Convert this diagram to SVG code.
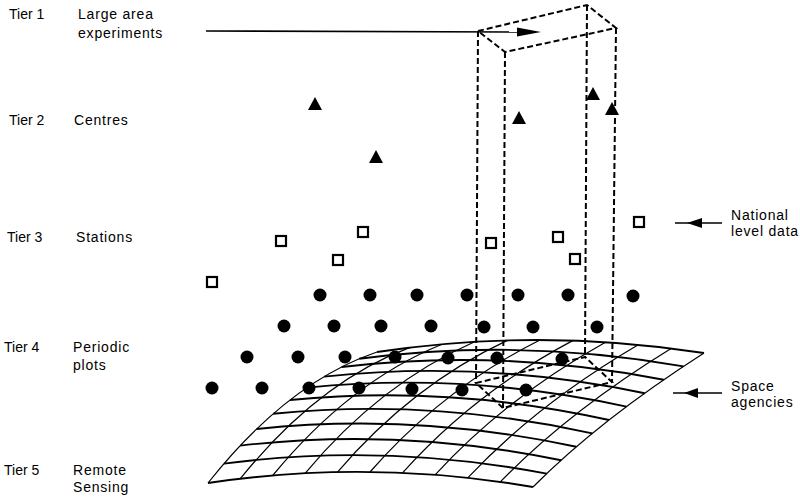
<svg xmlns="http://www.w3.org/2000/svg" width="800" height="501" viewBox="0 0 800 501">
<style>
text{font-family:"Liberation Sans",Arial,sans-serif;font-size:14px;fill:#000}
.lbl{letter-spacing:0.8px}
.row{fill:none;stroke:#000;stroke-width:1.9}
.col{fill:none;stroke:#000;stroke-width:1.2}
.dash{fill:none;stroke:#000;stroke-width:2;stroke-dasharray:6 3}
.dot{fill:#000}
.sq{fill:#fff;stroke:#000;stroke-width:2.2}
.tri{fill:#000}
.arr{fill:none;stroke:#000;stroke-width:1.6}
</style>
<rect width="800" height="501" fill="#fff"/>
<g id="labels">
<text x="9" y="19">Tier 1</text>
<text class="lbl" x="78" y="19">Large area</text>
<text class="lbl" x="78" y="38">experiments</text>
<text x="9" y="125">Tier 2</text>
<text class="lbl" x="74" y="125">Centres</text>
<text x="7" y="242">Tier 3</text>
<text class="lbl" x="76" y="242">Stations</text>
<text x="4" y="352">Tier 4</text>
<text class="lbl" x="73" y="352">Periodic</text>
<text class="lbl" x="73" y="370">plots</text>
<text x="4" y="475">Tier 5</text>
<text class="lbl" x="73" y="475">Remote</text>
<text class="lbl" x="73" y="492">Sensing</text>
<text class="lbl" x="731" y="220">National</text>
<text class="lbl" x="731" y="236">level data</text>
<text class="lbl" x="731" y="391">Space</text>
<text class="lbl" x="731" y="407">agencies</text>
</g>
<g id="remote-sensing-grid">
<path class="col" d="M208,483 Q287.5,382.5 377,352"/>
<path class="col" d="M240.3,478.7 Q318.5,381.7 409.5,347.6"/>
<path class="col" d="M272.7,475.5 Q349.6,381.8 442.1,344.2"/>
<path class="col" d="M305.1,473.3 Q380.7,383 474.7,341.8"/>
<path class="col" d="M337.5,472.1 Q411.8,385.3 507.3,340.4"/>
<path class="col" d="M370,472 Q443,388.5 540,340"/>
<path class="col" d="M402.5,472.9 Q474.2,392.8 572.7,340.6"/>
<path class="col" d="M435.1,474.9 Q505.5,398 605.5,342.2"/>
<path class="col" d="M467.7,477.9 Q536.8,404.3 638.3,344.8"/>
<path class="col" d="M500.3,481.9 Q568.1,411.7 671.1,348.4"/>
<path class="col" d="M533,487 Q599.5,420 704,353"/>
<path class="row" d="M208,483 Q369.5,459 533,487"/>
<path class="row" d="M224,463.6 Q384.4,442.7 546.7,473.6"/>
<path class="row" d="M240.2,445.6 Q399.7,427.1 561.1,460.2"/>
<path class="row" d="M256.6,429 Q415.5,412.2 576.3,446.8"/>
<path class="row" d="M273.2,413.8 Q431.8,398 592.3,433.4"/>
<path class="row" d="M290,400 Q448.5,384.5 609,420"/>
<path class="row" d="M307,387.6 Q465.8,371.7 626.5,406.6"/>
<path class="row" d="M324.2,376.6 Q483.5,359.6 644.7,393.2"/>
<path class="row" d="M341.6,367 Q501.7,348.2 663.7,379.8"/>
<path class="row" d="M359.2,358.8 Q520.4,337.5 683.5,366.4"/>
<path class="row" d="M377,352 Q539.5,327.5 704,353"/>
</g>
<g id="large-area-prism">
<polygon class="dash" points="478,31 587,5 616,28 505,52"/>
<polygon class="dash" points="476,383 585,357 612,382 503,408"/>
<line class="dash" x1="478" y1="31" x2="476" y2="383"/>
<line class="dash" x1="505" y1="52" x2="503" y2="408"/>
<line class="dash" x1="587" y1="5" x2="585" y2="357"/>
<line class="dash" x1="616" y1="28" x2="612" y2="382"/>
</g>
<g id="periodic-plots">
<circle class="dot" cx="320" cy="295" r="6.5"/><circle class="dot" cx="370" cy="295" r="6.5"/><circle class="dot" cx="417" cy="295" r="6.5"/><circle class="dot" cx="467" cy="295" r="6.5"/><circle class="dot" cx="518" cy="295" r="6.5"/><circle class="dot" cx="568" cy="295" r="6.5"/><circle class="dot" cx="633" cy="296" r="6.5"/>
<circle class="dot" cx="284" cy="326" r="6.5"/><circle class="dot" cx="334" cy="326" r="6.5"/><circle class="dot" cx="381" cy="326" r="6.5"/><circle class="dot" cx="431" cy="326" r="6.5"/><circle class="dot" cx="484" cy="327" r="6.5"/><circle class="dot" cx="533" cy="327" r="6.5"/><circle class="dot" cx="597" cy="327" r="6.5"/>
<circle class="dot" cx="247" cy="357" r="6.5"/><circle class="dot" cx="298" cy="357" r="6.5"/><circle class="dot" cx="345" cy="357" r="6.5"/><circle class="dot" cx="395" cy="357" r="6.5"/><circle class="dot" cx="448" cy="358" r="6.5"/><circle class="dot" cx="497" cy="358" r="6.5"/><circle class="dot" cx="562" cy="359" r="6.5"/>
<circle class="dot" cx="212" cy="388" r="6.5"/><circle class="dot" cx="262" cy="388" r="6.5"/><circle class="dot" cx="309" cy="388" r="6.5"/><circle class="dot" cx="359" cy="388" r="6.5"/><circle class="dot" cx="412" cy="389" r="6.5"/><circle class="dot" cx="462" cy="390" r="6.5"/><circle class="dot" cx="526" cy="390" r="6.5"/>
</g>
<g id="stations">
<rect class="sq" x="276" y="236" width="10" height="10"/>
<rect class="sq" x="358" y="227" width="10" height="10"/>
<rect class="sq" x="333" y="255" width="10" height="10"/>
<rect class="sq" x="207" y="277" width="10" height="10"/>
<rect class="sq" x="486" y="238" width="10" height="10"/>
<rect class="sq" x="553" y="232" width="10" height="10"/>
<rect class="sq" x="570" y="254" width="10" height="10"/>
<rect class="sq" x="634" y="217" width="10" height="10"/>
</g>
<g id="centres">
<polygon class="tri" points="315,97 308,110 322,110"/>
<polygon class="tri" points="376,150 369,163 383,163"/>
<polygon class="tri" points="519,111 512,124 526,124"/>
<polygon class="tri" points="593,87 586,100 600,100"/>
<polygon class="tri" points="612,102 605,115 619,115"/>
</g>
<g id="connectors">
<line class="arr" x1="206" y1="31" x2="520" y2="32"/>
<polygon points="541,32 517,27.5 517,36.5" fill="#000"/>
<line class="arr" x1="675" y1="223" x2="722" y2="223"/>
<polygon points="687,223 702,218 702,228" fill="#000"/>
<line class="arr" x1="673" y1="393" x2="722" y2="393"/>
<polygon points="684,393 698,388 698,398" fill="#000"/>
</g>
</svg>
